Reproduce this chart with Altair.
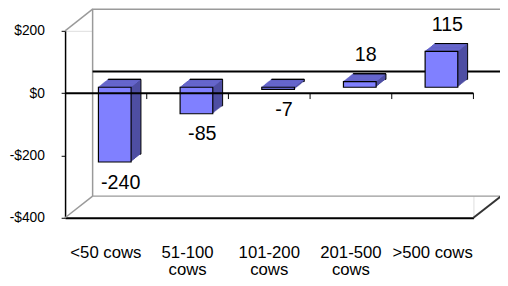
import altair as alt
import pandas as pd

# ---- data ----
categories = ["<50 cows", "51-100 cows", "101-200 cows", "201-500 cows", ">500 cows"]
values = [-240, -85, -7, 18, 115]
y_ticks = [200, 0, -200, -400]

# ---- layout / style constants ----
W, H = 415, 190
DX, DY = 28, -22      # depth of the 3D box (back wall offset)
FX, FY = 9, -6        # offset of bar front faces
BX, BY = 10, -8       # depth of each bar
STEPS = 10
FRONT = "#8080ff"
TOP = "#6666cc"
SIDE = "#4f4fa3"
WALL = "#9a9a9a"
FONT = "Liberation Sans"

df = pd.DataFrame({"cat": categories, "value": values})
df["top"] = df["value"].clip(lower=0)
df["zero"] = 0
df["label"] = [str(v) for v in values]

one = pd.DataFrame({"a": [0]})

xscale = alt.Scale(paddingInner=0.6, paddingOuter=0.3)
yscale = alt.Scale(domain=[-400, 200], nice=False, zero=False)

xaxis = alt.Axis(
    title=None, labelAngle=0, ticks=False, tickSize=0, labelPadding=27,
    labelFontSize=17, labelFont=FONT, labelColor="black",
    domainColor="black", domainWidth=2, labelLineHeight=18,
    labelExpr="indexof(datum.label, '<') == 0 || indexof(datum.label, '>') == 0 ? datum.label : split(datum.label, ' ')",
)
yaxis = alt.Axis(
    title=None, values=y_ticks, grid=False, tickSize=4, tickColor="black",
    domainColor="black", domainWidth=1.5, labelPadding=17, labelFontSize=14,
    labelFont=FONT, labelColor="black",
    labelExpr="datum.value < 0 ? '-$' + abs(datum.value) : '$' + datum.value",
)

X = alt.X("cat:N", sort=categories, scale=xscale, axis=xaxis)
base = alt.Chart(df)

layers = []

# back wall, left wall, floor edges
layers.append(alt.Chart(one).mark_rect(fill="white", stroke=WALL, strokeWidth=1.5).encode(
    x=alt.value(DX), x2=alt.value(W + DX), y=alt.value(DY), y2=alt.value(H + DY)))
layers.append(alt.Chart(one).mark_rule(color=WALL, strokeWidth=1.5).encode(
    x=alt.value(0), x2=alt.value(DX), y=alt.value(0), y2=alt.value(DY)))
layers.append(alt.Chart(one).mark_rule(color=WALL, strokeWidth=1.5).encode(
    x=alt.value(0), x2=alt.value(DX), y=alt.value(H), y2=alt.value(H + DY)))
layers.append(alt.Chart(one).mark_rule(color="#333333", strokeWidth=2).encode(
    x=alt.value(W), x2=alt.value(W + DX), y=alt.value(H), y2=alt.value(H + DY)))
# back-wall zero line
layers.append(alt.Chart(one).mark_rule(color="black", strokeWidth=2, yOffset=DY).encode(
    x=alt.value(DX), x2=alt.value(W + DX), y=alt.datum(0, scale=yscale)))

# bar side (depth) layers
for k in range(STEPS, 0, -1):
    ox = FX + BX * k / STEPS
    oy = FY + BY * k / STEPS
    kw = dict(color=SIDE, xOffset=ox, x2Offset=ox, yOffset=oy, y2Offset=oy)
    if k == STEPS:
        kw.update(stroke="black", strokeWidth=1)
    layers.append(base.mark_bar(**kw).encode(
        x=X, y=alt.Y("value:Q", scale=yscale, axis=yaxis), y2="zero:Q"))

# bar top faces
for k in range(STEPS):
    ox = FX + BX * k / STEPS
    oy0 = FY + BY * k / STEPS
    oy1 = FY + BY * (k + 1) / STEPS
    layers.append(base.mark_bar(color=TOP, xOffset=ox, x2Offset=ox, yOffset=oy1, y2Offset=oy0 + 0.4).encode(
        x=X, y=alt.Y("top:Q", scale=yscale, axis=yaxis), y2="top:Q"))
# back edge of the top face
layers.append(base.mark_bar(fill=None, fillOpacity=0, stroke="black", strokeWidth=1,
                            xOffset=FX + BX, x2Offset=FX + BX, yOffset=FY + BY, y2Offset=FY + BY).encode(
    x=X, y=alt.Y("top:Q", scale=yscale, axis=yaxis), y2="top:Q"))

# bar front faces
layers.append(base.mark_bar(color=FRONT, stroke="black", strokeWidth=1.2,
                            xOffset=FX, x2Offset=FX, yOffset=FY, y2Offset=FY).encode(
    x=X, y=alt.Y("value:Q", scale=yscale, axis=yaxis), y2="zero:Q"))

# front zero line with category ticks
layers.append(alt.Chart(one).mark_rule(color="black", strokeWidth=2).encode(
    x=alt.value(0), x2=alt.value(W), y=alt.datum(0, scale=yscale)))
layers.append(base.mark_rule(color="black", strokeWidth=1, xOffset=41.5, y2Offset=6).encode(
    x=X, y=alt.datum(0, scale=yscale), y2=alt.datum(0)))

# value labels
layers.append(base.transform_filter("datum.value < 0").mark_text(
    fontSize=20, font=FONT, color="black", xOffset=15, dy=15, baseline="middle").encode(
    x=X, y=alt.Y("value:Q", scale=yscale, axis=yaxis), text="label:N"))
layers.append(base.transform_filter("datum.value >= 0").mark_text(
    fontSize=20, font=FONT, color="black", xOffset=15, dy=-33, baseline="middle").encode(
    x=X, y=alt.Y("value:Q", scale=yscale, axis=yaxis), text="label:N"))

chart = alt.layer(*layers).properties(
    width=W, height=H,
    autosize="none",
    padding={"left": 58, "top": 21, "right": 27, "bottom": 59},
).configure_view(stroke=None).configure(background="white")

chart.save("out.html", embed_options={"renderer": "svg", "actions": False})
